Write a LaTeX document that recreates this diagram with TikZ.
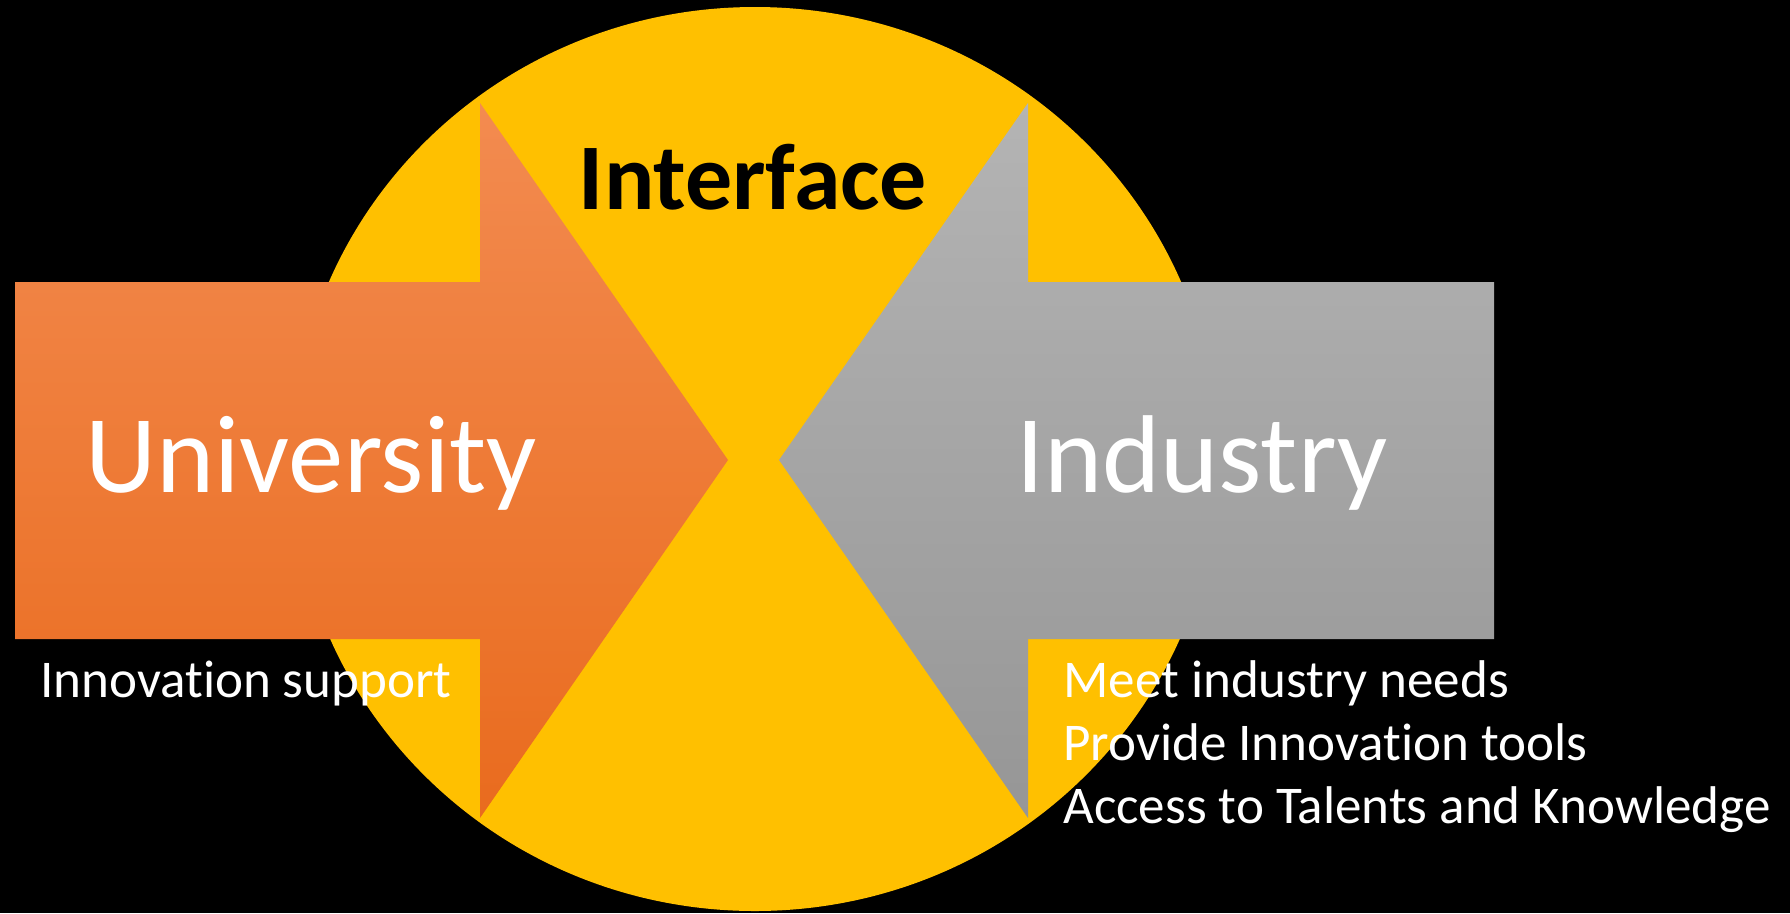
\documentclass[tikz,border=0pt]{standalone}
\usepackage{fontspec}
\setmainfont[RawFeature={-liga;-clig;-calt;-dlig}]{Carlito}
\usetikzlibrary{positioning}
\definecolor{discgold}{RGB}{255,192,0}
\definecolor{unitop}{RGB}{243,139,80}
\definecolor{unibot}{RGB}{233,107,30}
\definecolor{indtop}{RGB}{180,180,180}
\definecolor{indbot}{RGB}{150,150,150}
\tikzset{
	bigword/.style={text=white,inner sep=0pt,anchor=base,font=\fontsize{63}{75}\selectfont},
	smallword/.style={text=white,inner sep=0pt,anchor=base west,font=\fontsize{30.2}{36}\selectfont},
	titleword/.style={text=black,inner sep=0pt,anchor=base,font=\fontsize{53.5}{64}\selectfont\bfseries}
}
\begin{document}
\begin{tikzpicture}[x=0.02cm,y=-0.02cm]
		\fill[black] (0,0) rectangle (1790,913);
		\useasboundingbox (0,0) rectangle (1790,913);
		% the disc behind both arrows
		\fill[discgold] (755,459) ellipse [x radius=463, y radius=452];
		% university arrow
		\shade[top color=unitop,bottom color=unibot] (15,282) -- (480,282) -- (480,103) -- (728,460) -- (480,818) -- (480,639) -- (15,639) -- cycle;
		% industry arrow
		\shade[top color=indtop,bottom color=indbot] (1494,282) -- (1028,282) -- (1028,103) -- (779,460) -- (1028,818) -- (1028,639) -- (1494,639) -- cycle;
		\node[titleword](interface) at (753,209){Interface};
		\node[bigword](university) at (311,492){University};
		\node[bigword](industry) at (1202,492){Industry};
		\node[smallword](support) at (40,697){Innovation support};
		\node[smallword](needs) at (1063,697){Meet industry needs};
		\node[smallword](tools) at (1063,760){Provide Innovation tools};
		\node[smallword](access) at (1063,823){Access to Talents and Knowledge};
	\end{tikzpicture}
\end{document}
